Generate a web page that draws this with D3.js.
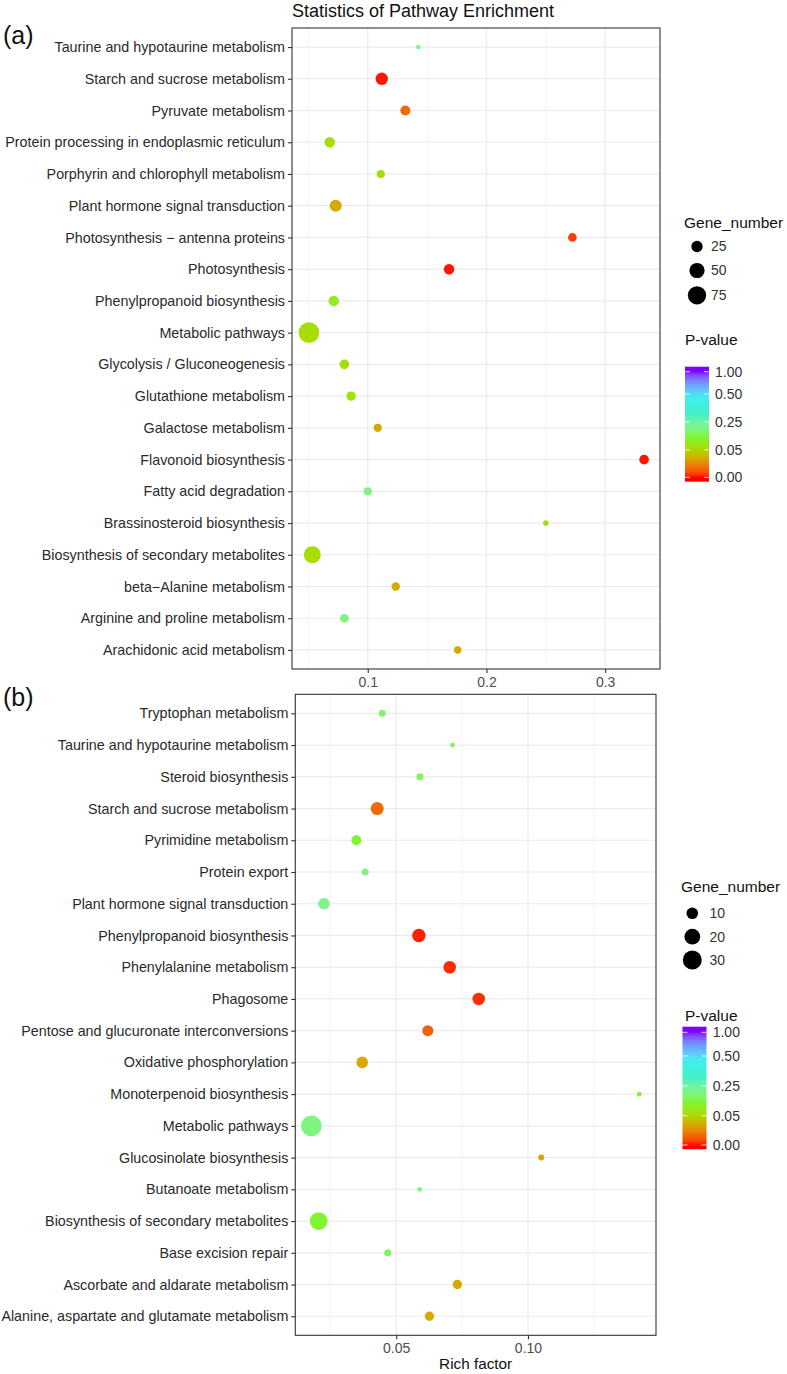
<!DOCTYPE html>
<html>
<head>
<meta charset="utf-8">
<script src="https://cdn.jsdelivr.net/npm/d3@7"></script>
<style>
  body { margin: 0; background: #fff; }
  svg { display: block; font-family: "Liberation Sans", Arial, sans-serif; }
</style>
</head>
<body>
<div id="chart"></div>
<script>

// ---- data: panel (a), listed top to bottom as drawn
var pathwaysA = ["Taurine and hypotaurine metabolism", "Starch and sucrose metabolism", "Pyruvate metabolism",
  "Protein processing in endoplasmic reticulum", "Porphyrin and chlorophyll metabolism", "Plant hormone signal transduction",
  "Photosynthesis \u2212 antenna proteins", "Photosynthesis", "Phenylpropanoid biosynthesis", "Metabolic pathways",
  "Glycolysis / Gluconeogenesis", "Glutathione metabolism", "Galactose metabolism", "Flavonoid biosynthesis",
  "Fatty acid degradation", "Brassinosteroid biosynthesis", "Biosynthesis of secondary metabolites",
  "beta\u2212Alanine metabolism", "Arginine and proline metabolism", "Arachidonic acid metabolism"];
var richA  = [0.1426, 0.1118, 0.1317, 0.068, 0.111, 0.073, 0.2724, 0.1685, 0.0714, 0.0505,
              0.0803, 0.086, 0.1084, 0.3328, 0.1, 0.25, 0.0533, 0.1236, 0.0803, 0.1758];
var genesA = [2, 31, 19, 20, 11, 29, 13, 21, 21, 98, 17, 16, 11, 17, 11, 4, 64, 12, 13, 9];
var pvalA  = [0.22, 0.001, 0.017, 0.06, 0.06, 0.035, 0.006, 0.001, 0.11, 0.06,
              0.065, 0.07, 0.035, 0.001, 0.2, 0.07, 0.06, 0.035, 0.2, 0.035];
var xTicksA = [0.1, 0.2, 0.3];
var sizeBreaksA = [25, 50, 75];

// ---- data: panel (b)
var pathwaysB = ["Tryptophan metabolism", "Taurine and hypotaurine metabolism", "Steroid biosynthesis",
  "Starch and sucrose metabolism", "Pyrimidine metabolism", "Protein export", "Plant hormone signal transduction",
  "Phenylpropanoid biosynthesis", "Phenylalanine metabolism", "Phagosome", "Pentose and glucuronate interconversions",
  "Oxidative phosphorylation", "Monoterpenoid biosynthesis", "Metabolic pathways", "Glucosinolate biosynthesis",
  "Butanoate metabolism", "Biosynthesis of secondary metabolites", "Base excision repair",
  "Ascorbate and aldarate metabolism", "Alanine, aspartate and glutamate metabolism"];
var richB  = [0.0447, 0.0714, 0.059, 0.0428, 0.0349, 0.0382, 0.0226, 0.0586, 0.0703, 0.0813,
              0.062, 0.0371, 0.1422, 0.0178, 0.105, 0.0589, 0.0206, 0.0468, 0.0732, 0.0626];
var genesB = [3, 1, 3, 13, 7, 3, 10, 14, 12, 12, 9, 10, 1, 36, 2, 1, 26, 3, 6, 6];
var pvalB  = [0.18, 0.18, 0.17, 0.017, 0.14, 0.21, 0.21, 0.002, 0.003, 0.004,
              0.014, 0.035, 0.14, 0.2, 0.035, 0.2, 0.14, 0.17, 0.035, 0.035];
var xTicksB = [0.05, 0.10];
var sizeBreaksB = [10, 20, 30];

// P-value colour bar
var pBreaks = [0, 0.05, 0.25, 0.5, 1];
var pLabels = ["0.00", "0.05", "0.25", "0.50", "1.00"];

// position along the colour bar for each p break, and the colours along it
var pPos = d3.scaleLinear().domain(pBreaks).range([0, 0.26, 0.525, 0.79, 1]).clamp(true);
var colour = d3.scaleLinear()
  .domain([0, 0.09, 0.18, 0.27, 0.38, 0.48, 0.6, 0.76, 0.88, 1])
  .range(["#ff0000", "#f26a0a", "#d6a800", "#a8dc00", "#7ef530", "#7cf590", "#40f0c8", "#40eef0", "#6aa0ff", "#8000ff"])
  .interpolate(d3.interpolateLab)
  .clamp(true);

var svg = d3.select("#chart").append("svg")
  .attr("width", 787)
  .attr("height", 1374);

function drawPanel(o) {
  var x = d3.scaleLinear().domain(o.xDomain).range([o.left, o.right]);
  var y = d3.scalePoint().domain(o.names).range([o.top, o.bottom]).padding(0.6);
  var r = d3.scaleSqrt().domain([0, o.nMax]).range([o.r0, o.r0 + o.k * Math.sqrt(o.nMax)]);

  var g = svg.append("g");

  // minor vertical grid
  g.selectAll(".minor").data(o.minor).enter().append("line")
    .attr("x1", function(d) { return x(d); }).attr("x2", function(d) { return x(d); })
    .attr("y1", o.top).attr("y2", o.bottom)
    .attr("stroke", "#ededed").attr("stroke-width", 0.6);

  // major vertical grid
  g.selectAll(".major").data(o.ticks).enter().append("line")
    .attr("x1", function(d) { return x(d); }).attr("x2", function(d) { return x(d); })
    .attr("y1", o.top).attr("y2", o.bottom)
    .attr("stroke", "#ebebeb").attr("stroke-width", 1.2);

  // horizontal grid
  g.selectAll(".hgrid").data(o.names).enter().append("line")
    .attr("x1", o.left).attr("x2", o.right)
    .attr("y1", function(d) { return y(d); }).attr("y2", function(d) { return y(d); })
    .attr("stroke", "#ebebeb").attr("stroke-width", 1.2);

  // dots
  g.selectAll(".dot").data(o.names).enter().append("circle")
    .attr("cx", function(d, i) { return x(o.rich[i]); })
    .attr("cy", function(d) { return y(d); })
    .attr("r", function(d, i) { return r(o.genes[i]); })
    .attr("fill", function(d, i) { return colour(pPos(o.pval[i])); });

  // panel border
  g.append("rect")
    .attr("x", o.left).attr("y", o.top)
    .attr("width", o.right - o.left).attr("height", o.bottom - o.top)
    .attr("fill", "none").attr("stroke", "#333").attr("stroke-width", 1.1);

  // y axis
  var ya = g.append("g")
    .attr("transform", "translate(" + o.left + ",0)")
    .call(d3.axisLeft(y).tickSize(4).tickPadding(3));
  ya.select(".domain").remove();
  ya.attr("font-size", 14.3).attr("font-family", null);
  ya.selectAll("line").attr("stroke", "#333").attr("stroke-width", 1.1);
  ya.selectAll("text").attr("fill", "#2a2a2a");

  // x axis
  var xa = g.append("g")
    .attr("transform", "translate(0," + o.bottom + ")")
    .call(d3.axisBottom(x).tickValues(o.ticks).tickFormat(d3.format(o.fmt)).tickSize(4).tickPadding(4));
  xa.select(".domain").remove();
  xa.attr("font-size", 14).attr("font-family", null);
  xa.selectAll("line").attr("stroke", "#333").attr("stroke-width", 1.1);
  xa.selectAll("text").attr("fill", "#4d4d4d");

  // panel tag
  svg.append("text")
    .attr("x", o.tagX).attr("y", o.tagY)
    .attr("font-size", 25)
    .attr("fill", "#111")
    .text(o.tag);

  // ---- legend: Gene_number
  var L = o.legend;
  svg.append("text")
    .attr("x", L.titleX).attr("y", L.sizeTitleY)
    .attr("font-size", 15.5).attr("fill", "#111")
    .text("Gene_number");

  var sl = svg.append("g");
  sl.selectAll("circle").data(o.sizeBreaks).enter().append("circle")
    .attr("cx", L.dotX)
    .attr("cy", function(d, i) { return L.dotY[i]; })
    .attr("r", function(d) { return r(d); })
    .attr("fill", "#000");
  sl.selectAll("text").data(o.sizeBreaks).enter().append("text")
    .attr("x", L.labelX)
    .attr("y", function(d, i) { return L.dotY[i]; })
    .attr("dy", "0.35em")
    .attr("font-size", 14).attr("fill", "#333")
    .text(function(d) { return d; });

  // ---- legend: P-value colour bar
  svg.append("text")
    .attr("x", L.titleX2).attr("y", L.pTitleY)
    .attr("font-size", 15.5).attr("fill", "#111")
    .text("P-value");

  var barY = d3.scaleLinear().domain([0, 1]).range([L.t0Y, L.t1Y]);
  var gradId = "grad" + o.tag.replace(/\W/g, "");
  var grad = svg.append("defs").append("linearGradient")
    .attr("id", gradId)
    .attr("x1", 0).attr("y1", 1).attr("x2", 0).attr("y2", 0);
  grad.selectAll("stop").data(d3.range(0, 1.0001, 0.02)).enter().append("stop")
    .attr("offset", function(d) { return d; })
    .attr("stop-color", function(d) {
      var py = L.barBottom - d * (L.barBottom - L.barTop);
      return colour(barY.invert(py));
    });

  svg.append("rect")
    .attr("x", L.barX).attr("y", L.barTop)
    .attr("width", L.barW).attr("height", L.barBottom - L.barTop)
    .attr("fill", "url(#" + gradId + ")");

  var cb = svg.append("g");
  cb.selectAll(".tl").data(pBreaks).enter().append("line")
    .attr("x1", L.barX).attr("x2", L.barX + 5)
    .attr("y1", function(d) { return barY(pPos(d)); }).attr("y2", function(d) { return barY(pPos(d)); })
    .attr("stroke", "#fff").attr("stroke-width", 0.8);
  cb.selectAll(".tr").data(pBreaks).enter().append("line")
    .attr("x1", L.barX + L.barW - 5).attr("x2", L.barX + L.barW)
    .attr("y1", function(d) { return barY(pPos(d)); }).attr("y2", function(d) { return barY(pPos(d)); })
    .attr("stroke", "#fff").attr("stroke-width", 0.8);
  cb.selectAll("text").data(pBreaks).enter().append("text")
    .attr("x", L.barLabelX)
    .attr("y", function(d) { return barY(pPos(d)); })
    .attr("dy", "0.35em")
    .attr("font-size", 14).attr("fill", "#333")
    .text(function(d, i) { return pLabels[i]; });
}

// panel (a)
drawPanel({
  tag: "(a)", tagX: 3, tagY: 44,
  names: pathwaysA, rich: richA, genes: genesA, pval: pvalA,
  xDomain: [0.0362, 0.3462], ticks: xTicksA, minor: [0.05, 0.15, 0.25], fmt: ".1f",
  left: 292, right: 660, top: 28, bottom: 669,
  nMax: 98, r0: 0.9, k: 0.95,
  sizeBreaks: sizeBreaksA,
  legend: {
    titleX: 684, sizeTitleY: 228, dotX: 697, dotY: [246.5, 270.5, 295.3], labelX: 711,
    titleX2: 685, pTitleY: 345,
    barX: 685, barW: 24, barTop: 366.7, barBottom: 481.7, t0Y: 477.3, t1Y: 371.7, barLabelX: 715
  }
});

// panel (b)
drawPanel({
  tag: "(b)", tagX: 3, tagY: 706,
  names: pathwaysB, rich: richB, genes: genesB, pval: pvalB,
  xDomain: [0.01172, 0.14856], ticks: xTicksB, minor: [0.025, 0.075, 0.125], fmt: ".2f",
  left: 295.3, right: 656, top: 694.3, bottom: 1335.3,
  nMax: 36, r0: 0.77, k: 1.59,
  sizeBreaks: sizeBreaksB,
  legend: {
    titleX: 681, sizeTitleY: 892, dotX: 692.3, dotY: [913.3, 936.7, 960], labelX: 709.5,
    titleX2: 685, pTitleY: 1021,
    barX: 682.5, barW: 24, barTop: 1026.7, barBottom: 1149.3, t0Y: 1145, t1Y: 1032.3, barLabelX: 712.7
  }
});

// chart title
svg.append("text")
  .attr("x", 292).attr("y", 16.5)
  .attr("font-size", 18).attr("fill", "#111")
  .text("Statistics of Pathway Enrichment");

// x axis title (bottom panel only)
svg.append("text")
  .attr("x", (295.3 + 656) / 2).attr("y", 1369)
  .attr("text-anchor", "middle")
  .attr("font-size", 15.3).attr("fill", "#111")
  .text("Rich factor");

</script>
</body>
</html>
